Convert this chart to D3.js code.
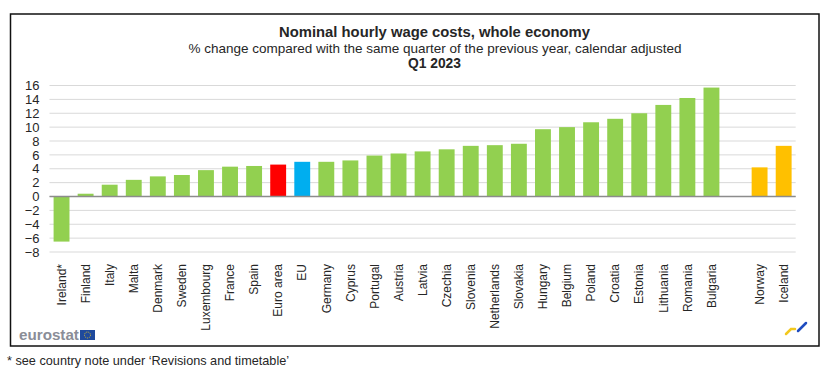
<!DOCTYPE html>
<html>
<head>
<meta charset="utf-8">
<script src="https://cdn.jsdelivr.net/npm/d3@7"></script>
<style>
    html, body { margin: 0; padding: 0; background: white; }
    text { font-family: "Liberation Sans", Arial, sans-serif; fill: #262626; }
    .domain { display: none; }
</style>
</head>
<body>
<div id="chart"></div>
<script>
// empty string is the gap before the non-EU countries
const countries = ["Ireland*", "Finland", "Italy", "Malta", "Denmark", "Sweden", "Luxembourg", "France", "Spain",
    "Euro area", "EU", "Germany", "Cyprus", "Portugal", "Austria", "Latvia", "Czechia", "Slovenia", "Netherlands",
    "Slovakia", "Hungary", "Belgium", "Poland", "Croatia", "Estonia", "Lithuania", "Romania", "Bulgaria", "",
    "Norway", "Iceland"];
const values = [-6.5, 0.4, 1.7, 2.4, 2.9, 3.1, 3.8, 4.3, 4.4, 4.6, 5.0, 5.0, 5.2, 5.9, 6.2, 6.5, 6.8, 7.3, 7.4,
    7.6, 9.7, 10.0, 10.7, 11.2, 12.0, 13.2, 14.2, 15.7, null, 4.2, 7.3];
const yTicks = [-8, -6, -4, -2, 0, 2, 4, 6, 8, 10, 12, 14, 16];
const specialColors = { "Euro area": "#ff0000", "EU": "#00aeef", "Norway": "#ffc000", "Iceland": "#ffc000" };

function init() {
    let w = 831;
    let h = 370;

    let svg = d3.select("#chart")
        .append("svg")
        .attr("width", w)
        .attr("height", h)
        .style("display", "block");

    // Outer frame
    svg.append("rect")
        .attr("x", 10.5)
        .attr("y", 14)
        .attr("width", 808.5)
        .attr("height", 332)
        .attr("fill", "white")
        .attr("stroke", "#111")
        .attr("stroke-width", 1.5);

    // Titles
    svg.append("text").attr("x", 434.5).attr("y", 36.5).attr("text-anchor", "middle")
        .style("font-size", "14.8px").style("font-weight", "bold")
        .text("Nominal hourly wage costs, whole economy");
    svg.append("text").attr("x", 435).attr("y", 52.5).attr("text-anchor", "middle")
        .style("font-size", "13.5px")
        .text("% change compared with the same quarter of the previous year, calendar adjusted");
    svg.append("text").attr("x", 434.5).attr("y", 68).attr("text-anchor", "middle")
        .style("font-size", "13.8px").style("font-weight", "bold")
        .text("Q1 2023");

    let x = d3.scaleBand()
        .domain(d3.range(countries.length))
        .range([49.5, 795.7])
        .paddingInner(0.34)
        .paddingOuter(0.17);

    let y = d3.scaleLinear()
        .domain([-8, 16])
        .range([252, 85.5]);

    // Y axis with gridlines
    let yAxis = svg.append("g")
        .attr("transform", "translate(49.5,0)")
        .call(d3.axisLeft(y).tickValues(yTicks).tickSize(0).tickPadding(10).tickFormat(d3.format("d")));
    yAxis.selectAll("text").style("font-size", "13px").style("font-family", "Liberation Sans");

    svg.append("g").selectAll("line")
        .data(yTicks)
        .enter()
        .append("line")
        .attr("x1", 49.5)
        .attr("x2", 795.7)
        .attr("y1", d => y(d))
        .attr("y2", d => y(d))
        .attr("stroke", "#d9d9d9")
        .attr("stroke-width", 1);

    // Bars
    svg.append("g").selectAll("rect")
        .data(d3.range(countries.length).filter(i => values[i] !== null))
        .enter()
        .append("rect")
        .attr("x", i => x(i))
        .attr("width", x.bandwidth())
        .attr("y", i => y(Math.max(0, values[i])))
        .attr("height", i => Math.abs(y(values[i]) - y(0)))
        .attr("fill", i => specialColors[countries[i]] || "#92d050");

    // Zero line sits on top of the bars
    svg.append("line")
        .attr("x1", 49.5)
        .attr("x2", 795.7)
        .attr("y1", y(0))
        .attr("y2", y(0))
        .attr("stroke", "#8c8c8c")
        .attr("stroke-width", 1.5);

    // Category labels
    let xAxis = svg.append("g")
        .attr("transform", "translate(0,264)")
        .call(d3.axisBottom(x).tickSize(0).tickFormat(i => countries[i]));
    xAxis.selectAll("text")
        .attr("transform", "rotate(-90)")
        .attr("text-anchor", "end")
        .attr("x", 0)
        .attr("y", 0)
        .attr("dy", "0.35em")
        .style("font-size", "12px")
        .style("font-family", "Liberation Sans");

    // Eurostat logo
    svg.append("text").attr("x", 19).attr("y", 340)
        .style("font-size", "15.2px").style("font-weight", "bold").style("fill", "#8a8d97")
        .text("eurostat");
    svg.append("rect").attr("x", 80).attr("y", 330).attr("width", 15).attr("height", 10).attr("fill", "#1f4a9c");
    svg.append("circle").attr("cx", 87.5).attr("cy", 335).attr("r", 3)
        .attr("fill", "none").attr("stroke", "#ffd617").attr("stroke-width", 0.8).attr("stroke-dasharray", "1 1");

    // Corner mark
    svg.append("path").attr("d", "M786,334 L791,329 L795,329")
        .attr("fill", "none").attr("stroke", "#f2c81e").attr("stroke-width", 2.5).attr("stroke-linecap", "round");
    svg.append("path").attr("d", "M798,331 L806,323")
        .attr("fill", "none").attr("stroke", "#1f4cc0").attr("stroke-width", 2.5).attr("stroke-linecap", "round");

    // Footnote
    svg.append("text").attr("x", 7).attr("y", 365)
        .style("font-size", "12.7px")
        .text("* see country note under \u2018Revisions and timetable\u2019");
}

window.onload = init;
</script>
</body>
</html>
